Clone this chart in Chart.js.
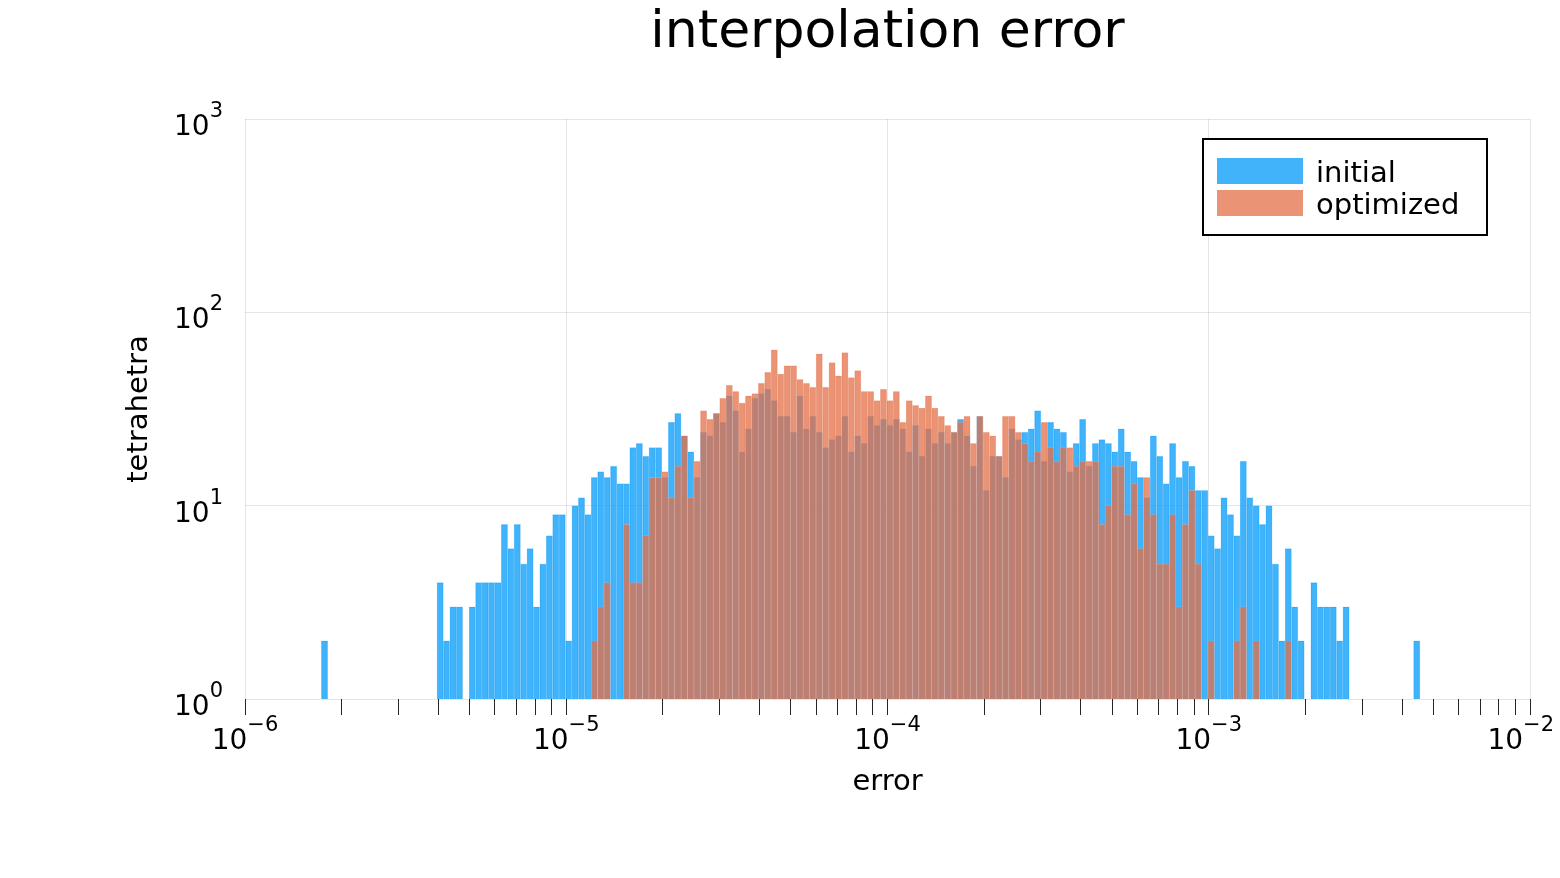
<!DOCTYPE html>
<html>
<head>
<meta charset="utf-8">
<script src="https://cdn.jsdelivr.net/npm/chart.js@4.4.1/dist/chart.umd.min.js"></script>
<style>
  body { margin: 0; background: #fff; }
  #wrap { width: 1560px; height: 878px; }
</style>
</head>
<body>
<div id="wrap"><canvas id="myChart" width="1560" height="878"></canvas></div>
<script>
// histogram bins: uniform in log10(error)
const firstBinExp = -5.7625;
const binWidthExp = 0.02;

// counts per bin (0 = empty / not visible)
const initialCounts = [
  2, 0, 0, 0, 0, 0, 0, 0, 0, 0,
  0, 0, 0, 0, 0, 0, 0, 0, 4, 2,
  3, 3, 0, 3, 4, 4, 4, 4, 8, 6,
  8, 5, 6, 3, 5, 7, 9, 9, 2, 10,
  11, 9, 14, 15, 14, 16, 13, 13, 20, 21,
  18, 20, 20, 14, 27, 30, 23, 19, 14, 24,
  23, 30, 27, 37, 31, 19, 25, 36, 38, 40,
  35, 29, 29, 24, 37, 25, 29, 24, 20, 22,
  23, 29, 19, 23, 21, 29, 26, 28, 26, 28,
  25, 19, 26, 18, 25, 21, 24, 21, 24, 28,
  23, 16, 29, 12, 18, 18, 14, 25, 22, 24,
  25, 31, 17, 27, 25, 24, 15, 21, 28, 16,
  21, 22, 21, 19, 25, 19, 17, 14, 11, 23,
  18, 13, 21, 14, 17, 16, 12, 12, 7, 6,
  11, 9, 7, 17, 11, 10, 8, 10, 5, 2,
  6, 3, 2, 0, 4, 3, 3, 3, 2, 3,
  0, 0, 0, 0, 0, 0, 0, 0, 0, 0,
  2
];
const optimizedCounts = [
  0, 0, 0, 0, 0, 0, 0, 0, 0, 0,
  0, 0, 0, 0, 0, 0, 0, 0, 0, 0,
  0, 0, 0, 0, 0, 0, 0, 0, 0, 0,
  0, 0, 0, 0, 0, 0, 0, 0, 0, 0,
  0, 0, 2, 3, 4, 0, 0, 8, 4, 4,
  7, 14, 14, 15, 11, 16, 23, 11, 17, 31,
  28, 30, 36, 42, 39, 34, 37, 38, 43, 49,
  64, 48, 53, 53, 45, 43, 41, 61, 41, 55,
  47, 62, 46, 50, 39, 39, 35, 40, 35, 39,
  27, 35, 33, 32, 37, 32, 29, 26, 24, 27,
  29, 21, 29, 24, 23, 18, 29, 29, 24, 21,
  17, 19, 27, 20, 17, 20, 20, 16, 17, 17,
  17, 8, 10, 16, 16, 9, 13, 6, 14, 9,
  5, 5, 9, 3, 8, 12, 5, 0, 2, 0,
  0, 0, 2, 3, 0, 2, 0, 0, 0, 0,
  2, 0, 0, 0, 0, 0, 0, 0, 0, 0,
  0, 0, 0, 0, 0, 0, 0, 0, 0, 0,
  0
];

// axis decades that get a 10^n label
const xTickExps = [-6, -5, -4, -3, -2];
const yTickExps = [0, 1, 2, 3];

const binCenters = initialCounts.map((_, i) => Math.pow(10, firstBinExp + (i + 0.5) * binWidthExp));
const toPoints = counts => counts.map((c, i) => ({ x: binCenters[i], y: c > 0 ? c : null }));

const BLUE = 'rgba(0, 154, 250, 0.75)';
const ORANGE = 'rgba(227, 111, 71, 0.75)';
const FONT = 'DejaVu Sans';

Chart.defaults.font.family = FONT;
Chart.defaults.color = '#000';

function isPow10(v) {
  const l = Math.log10(v);
  return Math.abs(l - Math.round(l)) < 1e-6;
}
function isWholeMantissa(v) {
  const m = v / Math.pow(10, Math.floor(Math.log10(v) + 1e-9));
  return Math.abs(m - Math.round(m)) < 1e-6;
}

// "10" with a raised exponent, like the original tick labels
function drawPow(ctx, x, baseline, exp, align, maxRight) {
  const expText = exp < 0 ? '\u2212' + (-exp) : String(exp);
  ctx.font = '28px "' + FONT + '"';
  const w1 = ctx.measureText('10').width;
  ctx.font = '21px "' + FONT + '"';
  const w2 = ctx.measureText(expText).width;
  let start = align === 'center' ? x - (w1 + w2) / 2 : x - (w1 + w2);
  if (maxRight !== undefined) start = Math.min(start, maxRight - w1 - w2);
  ctx.textAlign = 'left';
  ctx.textBaseline = 'alphabetic';
  ctx.font = '28px "' + FONT + '"';
  ctx.fillText('10', start, baseline);
  ctx.font = '21px "' + FONT + '"';
  ctx.fillText(expText, start + w1, baseline - 18);
}

const powLabels = {
  id: 'powLabels',
  afterDraw(chart) {
    const { ctx, scales: { x, y } } = chart;
    ctx.save();
    ctx.fillStyle = '#000';
    xTickExps.forEach(e => drawPow(ctx, x.getPixelForValue(Math.pow(10, e)), x.top + 50, e, 'center', chart.width - 6));
    yTickExps.forEach(e => drawPow(ctx, y.right - 22, y.getPixelForValue(Math.pow(10, e)) + 16, e, 'right'));
    ctx.restore();
  }
};

const boxLegend = {
  id: 'boxLegend',
  afterDraw(chart) {
    const { ctx, chartArea } = chart;
    const left = chartArea.right - 327, top = chartArea.top + 20;
    ctx.save();
    ctx.fillStyle = '#fff';
    ctx.fillRect(left, top, 284, 96);
    ctx.lineWidth = 2;
    ctx.strokeStyle = '#000';
    ctx.strokeRect(left, top, 284, 96);
    ctx.font = '29px "' + FONT + '"';
    ctx.textAlign = 'left';
    ctx.textBaseline = 'alphabetic';
    chart.data.datasets.forEach((ds, i) => {
      const rowTop = top + 19 + i * 32;
      ctx.fillStyle = ds.backgroundColor;
      ctx.fillRect(left + 14, rowTop, 86, 26);
      ctx.fillStyle = '#000';
      ctx.fillText(ds.label, left + 113, rowTop + 24);
    });
    ctx.restore();
  }
};

const ctx = document.getElementById('myChart').getContext('2d');
new Chart(ctx, {
  type: 'bar',
  data: {
    datasets: [
      {
        label: 'initial',
        data: toPoints(initialCounts),
        backgroundColor: BLUE,
        borderColor: 'rgba(120, 200, 250, 0.6)',
        borderWidth: 0.6,
        grouped: false,
        order: 1
      },
      {
        label: 'optimized',
        data: toPoints(optimizedCounts),
        backgroundColor: ORANGE,
        borderColor: 'rgba(240, 170, 150, 0.5)',
        borderWidth: 0.6,
        grouped: false,
        order: 0
      }
    ]
  },
  options: {
    responsive: false,
    devicePixelRatio: 1,
    animation: false,
    layout: { padding: { left: 0, right: 30, top: 0, bottom: 0 } },
    barPercentage: 1,
    categoryPercentage: 1,
    plugins: {
      legend: { display: false },
      tooltip: { enabled: false },
      title: {
        display: true,
        text: 'interpolation error',
        fullSize: false,
        color: '#000',
        font: { size: 52, weight: 'normal' },
        padding: { top: 2, bottom: 54.6 }
      }
    },
    scales: {
      x: {
        type: 'logarithmic',
        offset: false,
        min: 1e-6,
        max: 1e-2,
        afterBuildTicks: s => { s.ticks = s.ticks.filter(t => isWholeMantissa(t.value)); },
        afterFit: s => { s.height = 179; },
        ticks: { display: false, autoSkip: false },
        border: { display: false },
        grid: {
          offset: false,
          color: c => (c.tick && isPow10(c.tick.value)) ? 'rgba(0,0,0,0.1)' : 'rgba(0,0,0,0)',
          tickColor: 'rgba(0,0,0,0.85)',
          tickLength: 16,
          drawTicks: true
        },
        title: {
          display: true,
          text: 'error',
          color: '#000',
          font: { size: 29 },
          padding: { top: 0, bottom: 78 }
        }
      },
      y: {
        type: 'logarithmic',
        min: 1,
        max: 1000,
        afterBuildTicks: s => { s.ticks = s.ticks.filter(t => isPow10(t.value)); },
        afterFit: s => { s.width = 245; },
        ticks: { display: false },
        border: { display: false },
        grid: { color: 'rgba(0,0,0,0.1)', drawTicks: false },
        title: {
          display: true,
          text: 'tetrahetra',
          color: '#000',
          font: { size: 29 },
          padding: { top: 122, bottom: 0 }
        }
      }
    }
  },
  plugins: [powLabels, boxLegend]
});
</script>
</body>
</html>
